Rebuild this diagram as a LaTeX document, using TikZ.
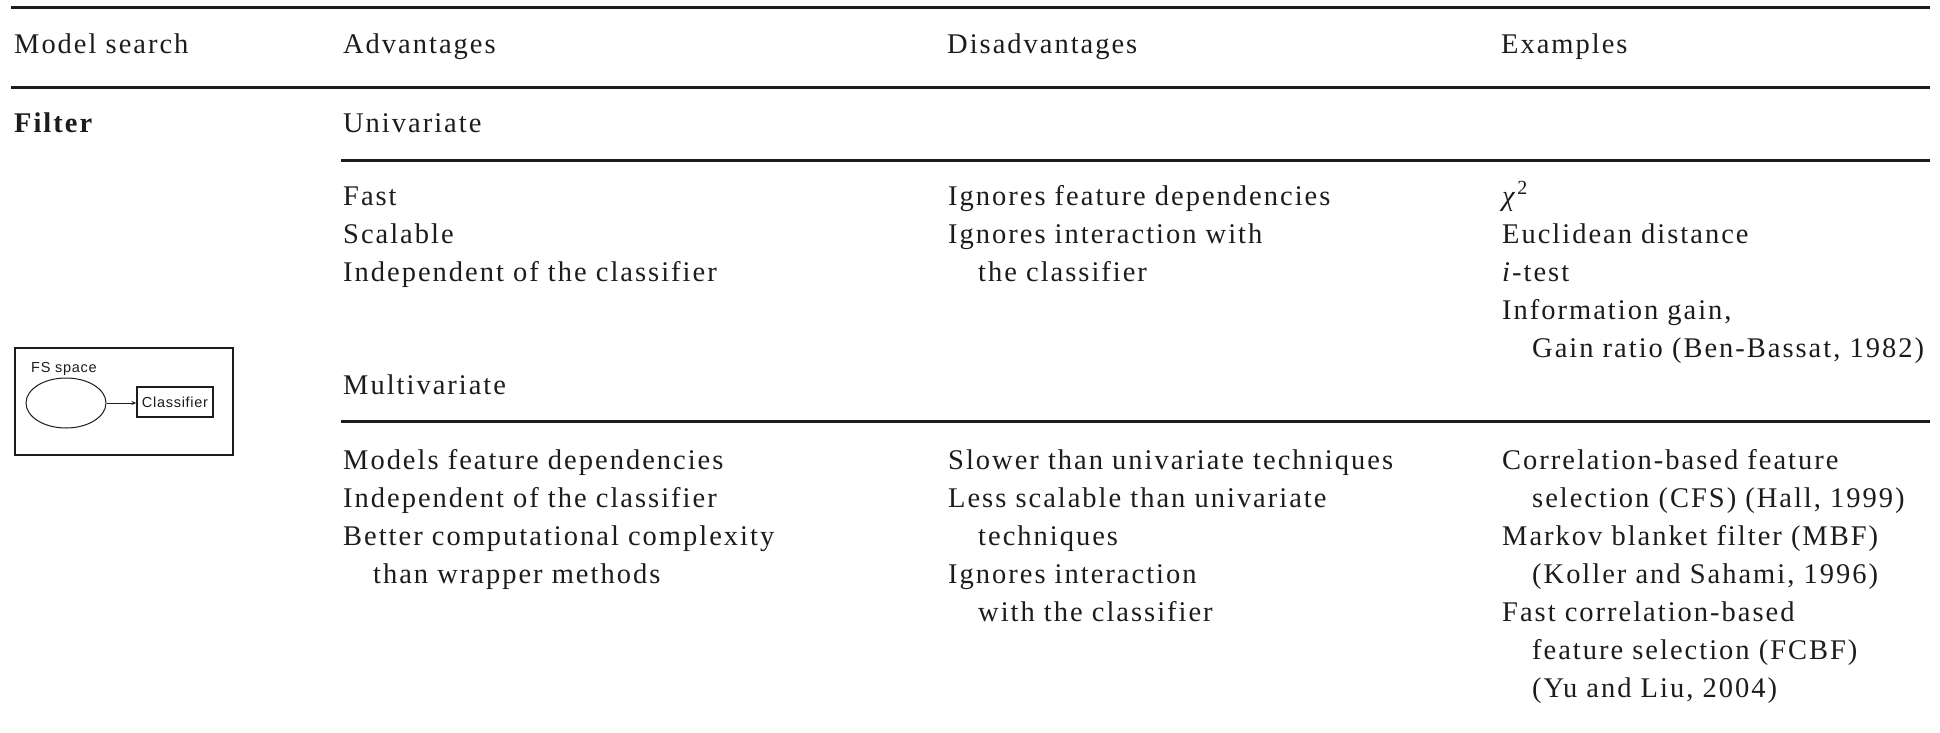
\documentclass[tikz,border=0pt]{standalone}
\usepackage{fontspec}
\setmainfont{Liberation Serif}[LetterSpace=7]
\newfontfamily\diagfont{Liberation Sans}[LetterSpace=5]
\usetikzlibrary{shapes.geometric,arrows.meta}
\definecolor{ink}{HTML}{1C1C1C}
\newcommand{\tabfont}{\fontsize{28.5}{38}\selectfont}
\tikzset{
  cell/.style={anchor=base west, inner sep=0pt, font=\tabfont, text=ink},
  rulebar/.style={line width=3pt, draw=ink},
  diag/.style={font=\diagfont\fontsize{14.5}{17}\selectfont, text=ink, inner sep=0pt},
}
\begin{document}
\begin{tikzpicture}[x=1pt,y=-1pt]
\useasboundingbox[fill=white] (0,0) rectangle (1940,733);
% rules
\coordinate (r1a) at (11,8);   \coordinate (r1b) at (1930,8);
\coordinate (r2a) at (11,88);  \coordinate (r2b) at (1930,88);
\coordinate (r3a) at (341,160); \coordinate (r3b) at (1930,160);
\coordinate (r4a) at (341,421); \coordinate (r4b) at (1930,421);
\draw[rulebar] (r1a) -- (r1b);
\draw[rulebar] (r2a) -- (r2b);
\draw[rulebar] (r3a) -- (r3b);
\draw[rulebar] (r4a) -- (r4b);
% header
\node[cell] (h1) at (14,54) {Model search};
\node[cell] (h2) at (343,54) {Advantages};
\node[cell] (h3) at (947,54) {Disadvantages};
\node[cell] (h4) at (1501,54) {Examples};
% filter / univariate
\node[cell] (filt) at (14,132) {\bfseries Filter};
\node[cell] (uni) at (343,132) {Univariate};
\node[cell] (ua1) at (343,205) {Fast};
\node[cell] (ua2) at (343,243) {Scalable};
\node[cell] (ua3) at (343,281) {Independent of the classifier};
\node[cell] (ud1) at (948,205) {Ignores feature dependencies};
\node[cell] (ud2) at (948,243) {Ignores interaction with};
\node[cell] (ud3) at (978,281) {the classifier};
\node[cell] (ue1) at (1502,205) {\textit{χ}\raisebox{11pt}{\fontsize{20}{22}\selectfont 2}};
\node[cell] (ue2) at (1502,243) {Euclidean distance};
\node[cell] (ue3) at (1502,281) {\textit{i}-test};
\node[cell] (ue4) at (1502,319) {Information gain,};
\node[cell] (ue5) at (1532,357) {Gain ratio (Ben-Bassat, 1982)};
% multivariate
\node[cell] (mul) at (343,394) {Multivariate};
\node[cell] (ma1) at (343,469) {Models feature dependencies};
\node[cell] (ma2) at (343,507) {Independent of the classifier};
\node[cell] (ma3) at (343,545) {Better computational complexity};
\node[cell] (ma4) at (373,583) {than wrapper methods};
\node[cell] (md1) at (948,469) {Slower than univariate techniques};
\node[cell] (md2) at (948,507) {Less scalable than univariate};
\node[cell] (md3) at (978,545) {techniques};
\node[cell] (md4) at (948,583) {Ignores interaction};
\node[cell] (md5) at (978,621) {with the classifier};
\node[cell] (me1) at (1502,469) {Correlation-based feature};
\node[cell] (me2) at (1532,507) {selection (CFS) (Hall, 1999)};
\node[cell] (me3) at (1502,545) {Markov blanket filter (MBF)};
\node[cell] (me4) at (1532,583) {(Koller and Sahami, 1996)};
\node[cell] (me5) at (1502,621) {Fast correlation-based};
\node[cell] (me6) at (1532,659) {feature selection (FCBF)};
\node[cell] (me7) at (1532,697) {(Yu and Liu, 2004)};
% small diagram
\node[draw=ink, line width=1.5pt, minimum width=218pt, minimum height=107pt, inner sep=0pt] (frame) at (124,401.5) {};
\node[diag, anchor=base west] (fs) at (31,372) {FS space};
\node[draw=ink, line width=1pt, ellipse, minimum width=80pt, minimum height=50pt, inner sep=0pt] (ell) at (66,403) {};
\node[diag, draw=ink, line width=1.3pt, minimum width=76pt, minimum height=30pt] (cls) at (175,402) {Classifier};
\draw[draw=ink, line width=0.8pt, -{Stealth[length=5pt,width=4pt]}] (ell.east) -- (ell.east -| cls.west);
\end{tikzpicture}
\end{document}
